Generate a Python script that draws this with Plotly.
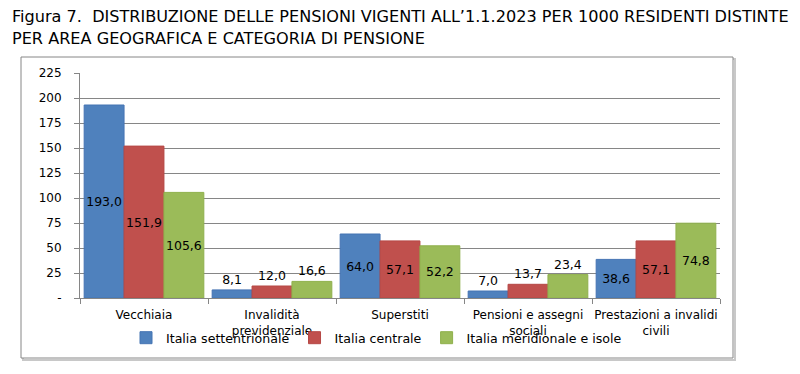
import plotly.graph_objects as go

categories = ["Vecchiaia", "Invalidità<br>previdenziale", "Superstiti",
              "Pensioni e assegni<br>sociali", "Prestazioni a invalidi<br>civili"]
series_names = ["Italia settentrionale", "Italia centrale", "Italia meridionale e isole"]
nord = [193.0, 8.1, 64.0, 7.0, 38.6]
centro = [151.9, 12.0, 57.1, 13.7, 57.1]
sud = [105.6, 16.6, 52.2, 23.4, 74.8]
y_tickvals = [0, 25, 50, 75, 100, 125, 150, 175, 200, 225]
y_ticktext = ["-", "25", "50", "75", "100", "125", "150", "175", "200", "225"]

colors = ["#4F81BD", "#C0504D", "#9BBB59"]
edge = ["#4574b3", "#b54845", "#8fb04c"]
FONT = "DejaVu Sans"

W, H = 800, 374
L, R, T, B = 80, 80, 73, 76
pw, ph = W - L - R, H - T - B

def px_x(x):
    return (x - L) / pw

def px_y(y):
    return (H - B - y) / ph

def fmt(v):
    return f"{v:.1f}".replace(".", ",")

fig = go.Figure()
for name, vals, c, e in zip(series_names, [nord, centro, sud], colors, edge):
    fig.add_trace(go.Bar(
        x=categories, y=vals, name=name,
        marker=dict(color=c, line=dict(color=e, width=1)),
        text=[fmt(v) for v in vals],
        textposition=["inside" if v > 30 else "outside" for v in vals],
        insidetextanchor="middle",
        textangle=0,
        constraintext="none",
        textfont=dict(family=FONT, size=12.5, color="#000000"),
        cliponaxis=False,
    ))

fig.update_layout(
    width=W, height=H,
    margin=dict(l=L, r=R, t=T, b=B, autoexpand=False),
    barmode="group", bargap=0.065, bargroupgap=0,
    paper_bgcolor="white", plot_bgcolor="white",
    font=dict(family=FONT, size=12, color="#000000"),
    showlegend=True,
    legend=dict(orientation="h", x=px_x(126), xanchor="left", y=px_y(338), yanchor="middle",
                font=dict(family=FONT, size=12.6, color="#000000"),
                itemwidth=30, tracegroupgap=0, bgcolor="rgba(0,0,0,0)",
                traceorder="normal"),
    xaxis=dict(showline=True, linecolor="#868686", linewidth=1, ticks="outside",
               tickson="boundaries", ticklen=5, tickcolor="#868686", tickangle=0,
               ticklabelstandoff=6,
               tickfont=dict(family=FONT, size=12, color="#000000"),
               showgrid=False, mirror=False, fixedrange=True),
    yaxis=dict(range=[0, 225], tickvals=y_tickvals, ticktext=y_ticktext,
               showline=True, linecolor="#868686", linewidth=1, ticks="outside",
               ticklen=5, tickcolor="#868686", showgrid=True, gridcolor="#868686",
               gridwidth=1, zeroline=False, ticklabelstandoff=10,
               tickfont=dict(family=FONT, size=12, color="#000000"), fixedrange=True),
    annotations=[
        dict(text="Figura 7.&nbsp; DISTRIBUZIONE DELLE PENSIONI VIGENTI ALL’1.1.2023 PER 1000 RESIDENTI DISTINTE",
             xref="paper", yref="paper", x=px_x(10), y=px_y(17), xanchor="left", yanchor="middle",
             showarrow=False, font=dict(family=FONT, size=16.1, color="#000000")),
        dict(text="PER AREA GEOGRAFICA E CATEGORIA DI PENSIONE",
             xref="paper", yref="paper", x=px_x(10), y=px_y(38), xanchor="left", yanchor="middle",
             showarrow=False, font=dict(family=FONT, size=16.1, color="#000000")),
    ],
    shapes=[
        dict(type="rect", xref="paper", yref="paper", layer="below",
             x0=px_x(23), x1=px_x(735), y0=px_y(360), y1=px_y(59),
             line=dict(color="#c8c8c8", width=2), fillcolor="rgba(0,0,0,0)"),
        dict(type="rect", xref="paper", yref="paper", layer="below",
             x0=px_x(21), x1=px_x(733), y0=px_y(358), y1=px_y(57),
             line=dict(color="#868686", width=1), fillcolor="white"),
    ],
)

fig.write_html("out.html", config={"displayModeBar": False},
               post_script="document.body.style.margin='0';document.body.style.overflow='hidden';")
